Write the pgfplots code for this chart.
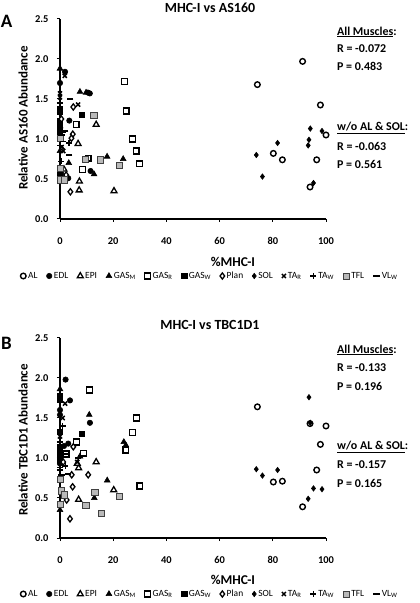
\documentclass[border=0pt]{standalone}
\usepackage{fontspec}
\setmainfont{Carlito}
\usepackage{pgfplots}
\pgfplotsset{compat=1.18}

\pgfplotsset{
  mAL/.style={only marks, mark=*, mark size=2.8bp, mark options={draw=black, fill=white, line width=1.4bp}},
  mEDL/.style={only marks, mark=*, mark size=2.7bp, mark options={draw=black, fill=black, line width=0.6bp}},
  mEPI/.style={only marks, mark=triangle*, mark size=3.4bp, mark options={draw=black, fill=white, line width=1.3bp}},
  mGASM/.style={only marks, mark=triangle*, mark size=3.3bp, mark options={draw=black, fill=black, line width=0.6bp}},
  mGASR/.style={only marks, mark=square*, mark size=2.9bp, mark options={draw=black, fill=white, line width=1.3bp}},
  mGASW/.style={only marks, mark=square*, mark size=2.7bp, mark options={draw=black, fill=black, line width=0.6bp}},
  mPlan/.style={only marks, mark=diamond*, mark size=3.1bp, mark options={draw=black, fill=white, line width=1.3bp}},
  mSOL/.style={only marks, mark=diamond*, mark size=2.7bp, mark options={draw=black, fill=black, line width=0.6bp}},
  mTAR/.style={only marks, mark=x, mark size=2.9bp, mark options={draw=black, line width=1.5bp}},
  mTAW/.style={only marks, mark=+, mark size=3bp, mark options={draw=black, line width=1.5bp}},
  mTFL/.style={only marks, mark=square*, mark size=3.1bp, mark options={draw=black!75, fill=gray!55, line width=0.7bp}},
  mVLW/.style={only marks, mark=-, mark size=3.3bp, mark options={draw=black, line width=1.7bp}},
  common/.style={
    scale only axis, width=266bp, height=200bp,
    xmin=0, xmax=100, ymin=0, ymax=2.5,
    axis x line*=bottom, axis y line*=left,
    xtick={0,20,40,60,80,100}, ytick={0,0.5,1,1.5,2,2.5},
    tick align=outside, major tick length=3bp,
    tick style={line width=1bp, black},
    axis line style={line width=1.2bp, black},
    ticklabel style={font=\bfseries\fontsize{10.5}{12}\selectfont},
    /pgf/number format/assume math mode=true,
    yticklabel style={/pgf/number format/fixed, /pgf/number format/fixed zerofill, /pgf/number format/precision=1, xshift=-5bp},
    xticklabel style={yshift=-12bp},
    clip=false,
    legend columns=-1,
    legend style={draw=none, fill=none, at={(0.564,-0.285)}, anchor=center,
      font=\fontsize{9.5}{11}\selectfont, inner sep=0pt,
      /tikz/every even column/.append style={column sep=7bp}},
    legend image code/.code={\draw[#1] plot coordinates {(0.1cm,0cm)};},
  },
}

\newcommand{\sidetext}[3]{\node[anchor=west, font=\bfseries\fontsize{12}{14}\selectfont, inner sep=0pt] at (axis description cs:1.041,#1) {#3};}

\begin{document}
\begin{tikzpicture}
\useasboundingbox (0,0) rectangle (420bp,603bp);

% ---------------- Panel A ----------------
\begin{axis}[common, at={(60bp,384bp)}, anchor=south west]
\addplot[mAL] coordinates {(91.2,1.97) (74.2,1.68) (97.9,1.425) (100,1.05) (80.2,0.82) (83.6,0.74) (96.5,0.74) (94,0.40)};
\addplot[mEDL] coordinates {(1.9,1.84) (0,1.70) (10.5,1.58) (11.2,1.57) (3.5,1.23) (11.5,0.60) (0.4,0.57) (3.1,0.51) (0,1.33)};
\addplot[mEPI] coordinates {(13.6,1.18) (6.8,0.94) (7.3,0.47) (7.2,0.36) (20.3,0.35) (1.5,0.62)};
\addplot[mGASM] coordinates {(0,1.88) (7.5,1.59) (9.8,1.58) (17.7,0.78) (23.75,0.75) (3.3,0.70) (12.8,0.56) (0,0.85)};
\addplot[mGASR] coordinates {(24.3,1.72) (24.9,1.35) (6.1,1.18) (27.2,1.0) (28.6,0.85) (10.6,0.76) (29.9,0.69) (8.5,0.62)};
\addplot[mGASW] coordinates {(0,1.38) (0,1.34) (8.2,1.30) (0,1.22) (0,1.16) (0,1.08) (0,0.55) (0,0.60)};
\addplot[mPlan] coordinates {(5.0,1.40) (4.8,1.06) (4.3,1.01) (2.3,0.55) (3.9,0.34) (0.8,0.87) (1.5,0.50) (0.5,1.25)};
\addplot[mSOL] coordinates {(94.1,1.13) (98.5,1.10) (81.8,0.95) (93.6,0.99) (93.3,0.92) (73.8,0.80) (76.1,0.53) (95.3,0.45)};
\addplot[mTAR] coordinates {(1.8,1.79) (0,1.57) (6.8,1.43) (0.6,0.90) (0,1.52) (1.2,0.85) (0.3,1.12)};
\addplot[mTAW] coordinates {(3.3,0.95) (0,1.45) (0,1.02) (0.5,0.72) (1,1.08)};
\addplot[mTFL] coordinates {(12.7,1.30) (0,1.01) (9.6,0.75) (15.2,0.74) (22.25,0.675) (0,0.63) (0,0.49) (1.5,0.49)};
\addplot[mVLW] coordinates {(3.75,1.50) (1.9,1.10) (3.4,0.80) (0.5,1.05) (0,0.92) (1.2,0.97)};
\legend{AL, EDL, EPI, GAS\textsubscript{M}, GAS\textsubscript{R}, GAS\textsubscript{W}, Plan, SOL, TA\textsubscript{R}, TA\textsubscript{W}, TFL, VL\textsubscript{W}}
\node[font=\bfseries\fontsize{14}{16}\selectfont] at (axis description cs:0.564,1.055) {MHC-I vs AS160};
\node[font=\bfseries\fontsize{19}{21}\selectfont] at (axis description cs:-0.201,0.9875) {A};
\node[rotate=90, font=\bfseries\fontsize{13}{15}\selectfont] at (axis description cs:-0.139,0.505) {Relative AS160 Abundance};
\node[font=\bfseries\fontsize{13.5}{15}\selectfont] at (axis description cs:0.65,-0.215) {\%MHC-I};
\sidetext{0.935}{}{\underline{All Muscles}:}
\sidetext{0.85}{}{R = -0.072}
\sidetext{0.765}{}{P = 0.483}
\sidetext{0.455}{}{\underline{w/o AL \& SOL}:}
\sidetext{0.365}{}{R = -0.063}
\sidetext{0.275}{}{P = 0.561}
\end{axis}

% ---------------- Panel B ----------------
\begin{axis}[common, at={(60bp,65bp)}, anchor=south west, legend style={at={(0.564,-0.28)}}]
\addplot[mAL] coordinates {(74.2,1.64) (94,1.43) (100,1.40) (97.9,1.17) (96.5,0.85) (80.2,0.70) (83.6,0.71) (91.2,0.39)};
\addplot[mEDL] coordinates {(2.1,1.98) (3.75,1.72) (0,1.60) (0,1.54) (11.25,1.44) (3.1,1.18) (0,0.93) (1.5,1.15)};
\addplot[mEPI] coordinates {(13.6,0.95) (7.0,0.875) (20.2,0.60) (7.0,0.48) (6.5,0.93)};
\addplot[mGASM] coordinates {(0,1.86) (11,1.54) (24,1.20) (24.75,1.16) (7.5,1.02) (17.75,0.72) (12.9,0.50) (0,0.35)};
\addplot[mGASR] coordinates {(11,1.85) (28.75,1.50) (27.25,1.32) (6.25,1.20) (24.75,1.10) (8.75,1.06) (2.25,1.05) (30,0.65)};
\addplot[mGASW] coordinates {(0,1.77) (0,1.73) (8.1,1.30) (0,1.33) (0,1.14) (0,1.06) (0,1.10) (0,0.98)};
\addplot[mPlan] coordinates {(5,1.14) (4.4,0.79) (10.6,0.79) (4.75,0.64) (2.5,0.475) (3.75,0.24) (1.2,0.95)};
\addplot[mSOL] coordinates {(93.6,1.76) (94.1,1.44) (73.8,0.86) (76.1,0.78) (81.8,0.85) (95.3,0.62) (98.5,0.61) (93.3,0.49)};
\addplot[mTAR] coordinates {(1.9,1.68) (0,1.27) (0.5,1.0) (6.5,0.95) (1,1.5)};
\addplot[mTAW] coordinates {(1,1.40) (0,0.85) (0,1.2) (2,0.9) (6.9,1.0)};
\addplot[mTFL] coordinates {(0,0.73) (0.4,0.59) (13.1,0.57) (22.25,0.52) (1.5,0.54) (9.75,0.41) (0,0.42) (15.6,0.31)};
\addplot[mVLW] coordinates {(1.9,1.05) (0.6,0.79) (0,0.88) (3,0.80) (0.5,1.08)};
\legend{AL, EDL, EPI, GAS\textsubscript{M}, GAS\textsubscript{R}, GAS\textsubscript{W}, Plan, SOL, TA\textsubscript{R}, TA\textsubscript{W}, TFL, VL\textsubscript{W}}
\node[font=\bfseries\fontsize{14}{16}\selectfont] at (axis description cs:0.564,1.065) {MHC-I vs TBC1D1};
\node[font=\bfseries\fontsize{19}{21}\selectfont] at (axis description cs:-0.201,0.975) {B};
\node[rotate=90, font=\bfseries\fontsize{13}{15}\selectfont] at (axis description cs:-0.139,0.49) {Relative TBC1D1 Abundance};
\node[font=\bfseries\fontsize{13.5}{15}\selectfont] at (axis description cs:0.65,-0.21) {\%MHC-I};
\sidetext{0.94}{}{\underline{All Muscles}:}
\sidetext{0.85}{}{R = -0.133}
\sidetext{0.76}{}{P = 0.196}
\sidetext{0.455}{}{\underline{w/o AL \& SOL}:}
\sidetext{0.365}{}{R = -0.157}
\sidetext{0.275}{}{P = 0.165}
\end{axis}
\end{tikzpicture}
\end{document}
